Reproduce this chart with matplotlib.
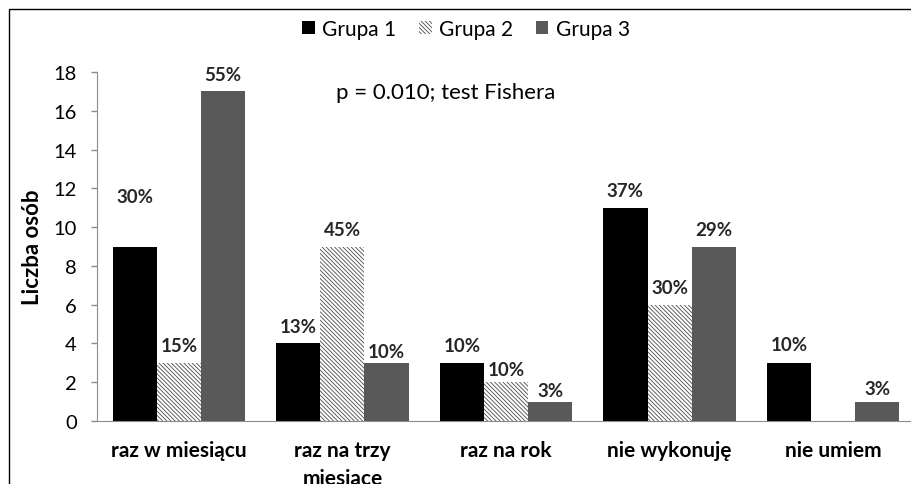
import matplotlib
matplotlib.use('Agg')
import matplotlib.pyplot as plt
from matplotlib.patches import Rectangle
import numpy as np

plt.rcParams['font.family'] = ['Lato', 'DejaVu Sans']
plt.rcParams['hatch.linewidth'] = 0.6

categories = ['raz w miesiącu', 'raz na trzy\nmiesiące', 'raz na rok', 'nie wykonuję', 'nie umiem']
groups = ['Grupa 1', 'Grupa 2', 'Grupa 3']
grupa1 = [9, 4, 3, 11, 3]
grupa2 = [3, 9, 2, 6, 0]
grupa3 = [17, 3, 1, 9, 1]
proc1 = ['30%', '13%', '10%', '37%', '10%']
proc2 = ['15%', '45%', '10%', '30%', '']
proc3 = ['55%', '10%', '3%', '29%', '3%']
yticks = [0, 2, 4, 6, 8, 10, 12, 14, 16, 18]

# gap between bar top and its label, in points
label_gap = [[30, 6, 6, 6, 7],
			 [6, 6, 3, 6, 0],
			 [6, 2, 2, 6, 3]]


def graph():
	fig = plt.figure(figsize=(9.12, 4.85), dpi=100)
	ax = fig.add_axes([97 / 912, 63 / 485, 818 / 912, 349 / 485])

	x = np.arange(len(categories))
	w = 0.27
	axis_col = '#8c8c8c'

	b1 = ax.bar(x - w, grupa1, w, color='black', linewidth=0, label=groups[0])
	b2 = ax.bar(x, grupa2, w, color='white', edgecolor='#4a4a4a', hatch='\\' * 8,
				linewidth=0, label=groups[1])
	b3 = ax.bar(x + w, grupa3, w, color='#595959', linewidth=0, label=groups[2])

	for gi, (bars, labs) in enumerate([(b1, proc1), (b2, proc2), (b3, proc3)]):
		for ci, (rect, lab) in enumerate(zip(bars, labs)):
			if lab == '':
				continue
			ax.annotate(lab, (rect.get_x() + rect.get_width() / 2, rect.get_height()),
						xytext=(0, label_gap[gi][ci]), textcoords='offset points',
						ha='center', va='bottom', fontsize=13.5, fontweight='bold',
						color='#262626')

	ax.set_xlim(-0.5, len(categories) - 0.5)
	ax.set_ylim(0, 18)
	ax.set_yticks(yticks)
	ax.set_xticks(x)
	ax.set_xticklabels(categories, fontsize=15, fontweight='bold', linespacing=1.45)
	ax.tick_params(axis='x', length=0, pad=14, colors='black')
	ax.tick_params(axis='y', length=4.5, width=1, color=axis_col, pad=10, labelsize=14.5)

	for s in ['top', 'right']:
		ax.spines[s].set_visible(False)
	ax.spines['left'].set_color(axis_col)
	ax.spines['bottom'].set_color(axis_col)

	ax.set_ylabel('Liczba osób', fontsize=16, fontweight='bold')
	ax.yaxis.set_label_coords(-0.066, 0.5)

	ax.text(0.292, 0.943, 'p = 0.010; test Fishera', transform=ax.transAxes,
			fontsize=16, va='center', ha='left')

	fig.legend(handles=[b1, b2, b3], loc='center', bbox_to_anchor=(0.511, 0.938),
			   ncol=3, frameon=False, fontsize=15, handlelength=0.6,
			   handleheight=0.6, handletextpad=0.35, columnspacing=1.1)

	# chart frame (cut off at right and bottom)
	fig.patches.append(Rectangle((9.5 / 912, -0.2), 2, 1.2 - 9.5 / 485,
								 transform=fig.transFigure, fill=False,
								 edgecolor='black', linewidth=1))

	fig.savefig('out.png', dpi=100)


if __name__ == '__main__':
	graph()
